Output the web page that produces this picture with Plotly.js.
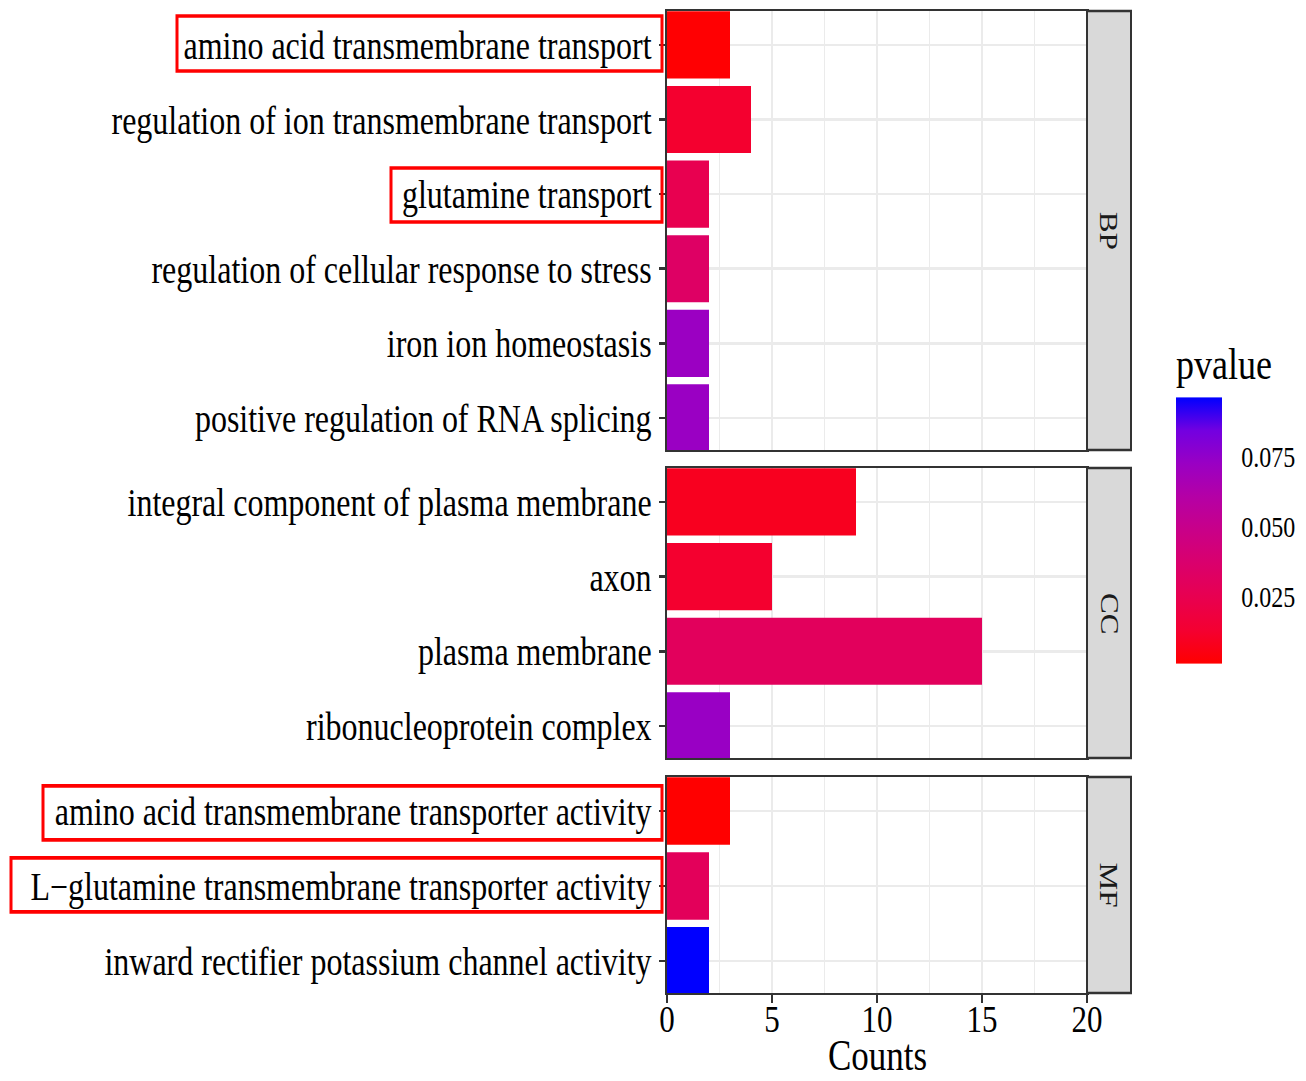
<!DOCTYPE html>
<html>
<head>
<meta charset="utf-8">
<script src="https://cdn.plot.ly/plotly-3.0.1.min.js"></script>
<style>
html,body{margin:0;padding:0;overflow:hidden;background:#fff}
#wrap{width:1306px;height:1081px;overflow:hidden}
#plot{width:1306px;height:865px;transform:scaleY(1.24971);transform-origin:0 0}
</style>
</head>
<body>
<div id="wrap"><div id="plot"></div></div>
<script>
// ---- data ----
const bpTerms = ["amino acid transmembrane transport", "regulation of ion transmembrane transport", "glutamine transport", "regulation of cellular response to stress", "iron ion homeostasis", "positive regulation of RNA splicing"];
const bpCounts = [3, 4, 2, 2, 2, 2];
const bpPvalue = [0.0015, 0.0125, 0.0248, 0.0330, 0.0716, 0.0720];

const ccTerms = ["integral component of plasma membrane", "axon", "plasma membrane", "ribonucleoprotein complex"];
const ccCounts = [9, 5, 15, 3];
const ccPvalue = [0.0087, 0.0125, 0.0300, 0.0725];

const mfTerms = ["amino acid transmembrane transporter activity", "L\u2212glutamine transmembrane transporter activity", "inward rectifier potassium channel activity"];
const mfCounts = [3, 2, 2];
const mfPvalue = [0.0011, 0.0290, 0.0957];

const facetLabels = ["BP", "CC", "MF"];
const xTickVals = [0, 5, 10, 15, 20];
const xTitle = "Counts";
const cbTickVals = [0.025, 0.050, 0.075];
const cbTickText = ["0.025", "0.050", "0.075"];

// ---- geometry (reference pixels) ----
const W = 1306, H = 1081;
const px = v => v / W, py = v => 1 - v / H;
const panelX = [667, 1087];
const stripX = [1087, 1131];
const panelY = [[11, 450], [468, 758], [777, 993]];
const boxes = [[177, 16, 662, 71], [391, 168, 662, 222], [43, 786, 662, 840], [11, 858, 662, 912]];
const cbBottom = 664, cbBar = 265, cbTitle = 57;

const panels = [
  {terms: bpTerms, counts: bpCounts, p: bpPvalue},
  {terms: ccTerms, counts: ccCounts, p: ccPvalue},
  {terms: mfTerms, counts: mfCounts, p: mfPvalue}
];

const allP = bpPvalue.concat(ccPvalue, mfPvalue);
const cmin = Math.min.apply(null, allP), cmax = Math.max.apply(null, allP);

const colorscale = [[0,'#FF0000'],[0.125,'#F40031'],[0.25,'#E80050'],[0.375,'#DA006C'],[0.5,'#C90088'],[0.625,'#B500A5'],[0.75,'#9A00C3'],[0.875,'#7300E0'],[1,'#0000FF']];

const traces = [];
const layout = {
  width: 1306, height: 865,
  margin: {l: 0, r: 0, t: 0, b: 0},
  paper_bgcolor: '#fff', plot_bgcolor: '#fff',
  font: {family: 'Liberation Serif, "Times New Roman", serif', color: '#000'},
  showlegend: false,
  shapes: [], annotations: [],
  coloraxis: {
    cmin: cmin, cmax: cmax, colorscale: colorscale,
    colorbar: {
      x: px(1176), xanchor: 'left', xref: 'paper',
      y: py(cbBottom), yanchor: 'bottom', yref: 'paper',
      len: (cbBar + cbTitle) / H, lenmode: 'fraction',
      thickness: 46, thicknessmode: 'pixels',
      outlinewidth: 0, xpad: 0, ypad: 0,
      tickvals: cbTickVals, ticktext: cbTickText,
      ticks: 'outside', ticklen: 15, tickcolor: 'rgba(0,0,0,0)',
      tickfont: {size: 24, color: '#000'},
      title: {text: 'pvalue', side: 'top', font: {size: 36, color: '#000'}}
    }
  }
};

panels.forEach((pn, i) => {
  const sx = i === 0 ? '' : String(i + 1);
  const n = pn.terms.length;
  traces.push({
    type: 'bar', orientation: 'h',
    x: pn.counts, y: pn.terms, width: 0.9,
    marker: {color: pn.p, coloraxis: 'coloraxis', line: {width: 0}},
    xaxis: 'x' + sx, yaxis: 'y' + sx, hoverinfo: 'skip'
  });
  const isBottom = i === panels.length - 1;
  layout['xaxis' + sx] = {
    domain: [px(panelX[0]), px(panelX[1])], range: [0, 20], anchor: 'y' + sx,
    showline: true, mirror: true, linecolor: '#333', linewidth: 2,
    ticks: isBottom ? 'outside' : '', ticklen: 6, tickwidth: 2, tickcolor: '#333',
    showticklabels: isBottom, tickvals: xTickVals, ticklabelstandoff: -14,
    tickfont: {size: 31, color: '#000'},
    showgrid: true, gridcolor: '#EBEBEB', gridwidth: 2,
    minor: {dtick: 2.5, tick0: 0, showgrid: true, gridcolor: '#EBEBEB', gridwidth: 1.6},
    zeroline: false, fixedrange: true
  };
  layout['yaxis' + sx] = {
    domain: [py(panelY[i][1]), py(panelY[i][0])], type: 'category',
    range: [n - 0.57, -0.455], anchor: 'x' + sx,
    showline: true, mirror: true, linecolor: '#333', linewidth: 2,
    ticks: 'outside', ticklen: 6, tickwidth: 2, tickcolor: '#333',
    tickfont: {size: 32, color: '#000'}, ticklabelstandoff: 1,
    showgrid: true, gridcolor: '#EBEBEB', gridwidth: 2,
    zeroline: false, fixedrange: true
  };
  // facet strip
  layout.shapes.push({
    type: 'rect', xref: 'paper', yref: 'paper',
    x0: px(stripX[0]), x1: px(stripX[1]), y0: py(panelY[i][1]), y1: py(panelY[i][0]),
    fillcolor: '#D9D9D9', line: {color: '#333', width: 2}, layer: 'above'
  });
  layout.annotations.push({
    xref: 'paper', yref: 'paper',
    x: px((stripX[0] + stripX[1]) / 2), y: py((panelY[i][0] + panelY[i][1]) / 2),
    text: facetLabels[i], textangle: 90, showarrow: false,
    font: {size: 25, color: '#1A1A1A'}, xanchor: 'center', yanchor: 'middle'
  });
});

// x-axis title, placed at the bottom edge like the reference
layout.annotations.push({
  xref: 'paper', yref: 'paper',
  x: px((panelX[0] + panelX[1]) / 2), y: 0,
  text: xTitle, showarrow: false, xanchor: 'center', yanchor: 'bottom', yshift: -1,
  font: {size: 35, color: '#000'}
});

// highlight boxes around labels
boxes.forEach(b => {
  layout.shapes.push({
    type: 'rect', xref: 'paper', yref: 'paper',
    x0: px(b[0]), x1: px(b[2]), y0: py(b[3]), y1: py(b[1]),
    fillcolor: 'rgba(0,0,0,0)', line: {color: '#FF0000', width: 3}
  });
});

// white inner ticks of the colour bar, derived from the tick values
cbTickVals.forEach(v => {
  const yy = py(cbBottom) + (v - cmin) / (cmax - cmin) * (cbBar / H);
  [[1176, 1185], [1213, 1222]].forEach(seg => {
    layout.shapes.push({
      type: 'line', xref: 'paper', yref: 'paper',
      x0: px(seg[0]), x1: px(seg[1]), y0: yy, y1: yy,
      line: {color: '#FFFFFF', width: 1.5}, layer: 'above'
    });
  });
});

Plotly.newPlot('plot', traces, layout, {displayModeBar: false, staticPlot: true});
</script>
</body>
</html>
